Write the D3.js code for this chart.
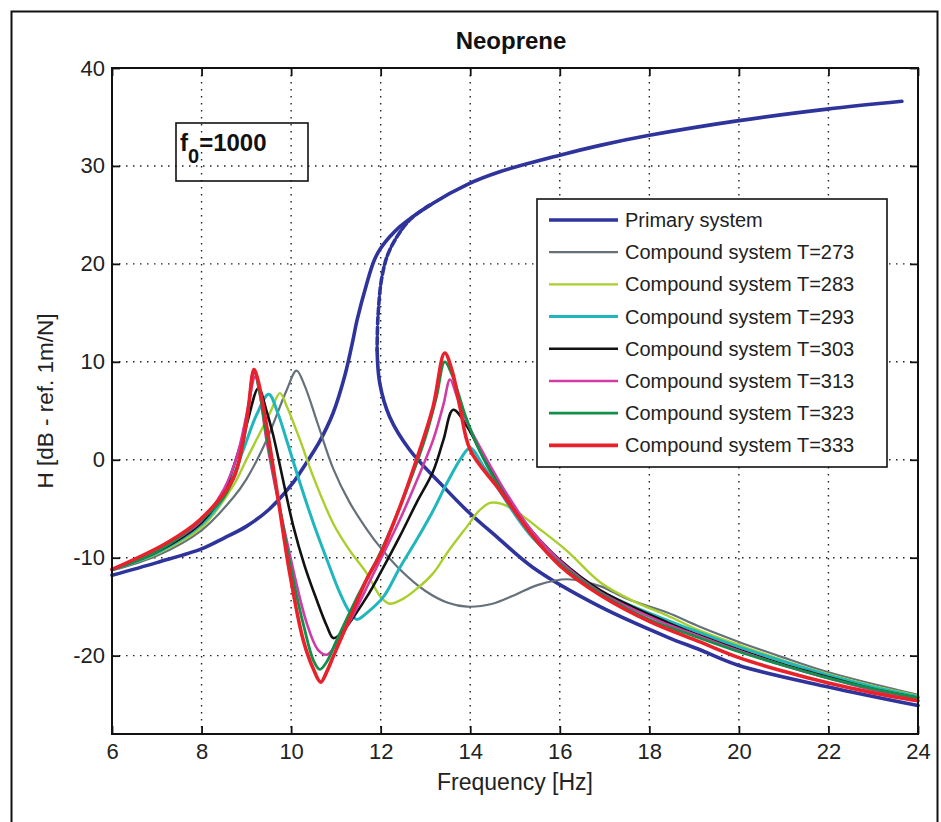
<!DOCTYPE html>
<html>
<head>
<meta charset="utf-8">
<script src="https://cdn.jsdelivr.net/npm/d3@7"></script>
<style>
  body { margin: 0; background: #fff; }
  svg { font-family: "Liberation Sans", Arial, sans-serif; }
</style>
</head>
<body>
<svg id="chart" width="941" height="822"></svg>
<script>
// axis ticks
const freqTicks = [6, 8, 10, 12, 14, 16, 18, 20, 22, 24];
const levelTicks = [-20, -10, 0, 10, 20, 30, 40];

// Primary system, rising branch and falling branch  [frequency Hz, H dB]
const primaryRise = [[6,-11.8],[7,-10.5],[8,-9.1],[8.5,-8.0],[9,-6.8],[9.5,-5.1],[10,-2.6],[10.3,-0.6],[10.64,1.9],
  [10.94,4.8],[11.2,8.6],[11.38,12.2],[11.47,14.2],[11.69,18.0],[11.85,20.3],[12.0,21.6],[12.43,23.8],[13.17,26.2],
  [13.93,28.1],[14.66,29.4],[16,31.1],[16.9,32.1],[17.97,33.1],[19.96,34.6],[21.97,35.8],[23.64,36.6]];
const primaryFallTop = [[13.1,26.0],[12.65,24.5],[12.2,21.4],[12.03,18.7],[11.94,14.6],[11.92,11.2]];
const primaryFall = [[11.92,11.2],[11.98,7.8],[12.2,4.4],[12.65,1.0],[13.33,-2.4],[13.93,-5.2],[14.6,-7.9],
  [15.4,-11.0],[16.9,-15.0],[18.4,-18.1],[19.13,-19.4],[20,-21.0],[22,-23.2],[24,-25.1]];

// Compound system, one array per temperature
const t273 = [[6,-11.3],[7,-9.8],[8,-7.2],[8.7,-3.9],[9,-2.0],[9.45,2.0],[9.9,7.1],[10.12,9.1],[10.3,7.6],[10.6,3.6],
  [10.94,-0.9],[11.3,-4.3],[11.69,-7.1],[12,-9.0],[12.43,-11.2],[13,-13.4],[13.5,-14.6],[13.93,-15.0],[14.5,-14.7],
  [15,-13.8],[15.5,-12.8],[16.16,-12.2],[16.9,-12.9],[17.5,-14.2],[18.4,-15.6],[19.1,-17.0],[20,-18.6],[21,-20.2],
  [22,-21.7],[23,-22.9],[24,-24.0]];
const t283 = [[6,-11.2],[7,-9.6],[8,-6.9],[8.7,-2.7],[9,0.0],[9.3,2.7],[9.55,5.0],[9.75,6.8],[9.9,5.5],[10.2,2.0],
  [10.5,-1.8],[10.94,-6.5],[11.3,-9.2],[11.69,-11.6],[12,-14.0],[12.2,-14.7],[12.5,-14.2],[12.8,-13.2],[13.17,-11.6],
  [13.5,-9.4],[13.93,-6.8],[14.2,-5.2],[14.44,-4.4],[14.7,-4.5],[15.04,-5.3],[15.5,-6.9],[16.16,-9.3],[16.9,-12.5],
  [17.63,-14.4],[18.4,-15.9],[19.1,-17.4],[20,-18.9],[21,-20.5],[22,-21.9],[23,-23.1],[24,-24.1]];
const t293 = [[6,-11.2],[7,-9.5],[8,-6.6],[8.5,-3.8],[8.93,1.0],[9.23,4.6],[9.5,6.7],[9.7,4.8],[9.9,2.0],[10.2,-2.4],
  [10.5,-6.5],[10.8,-10.2],[11.09,-13.6],[11.3,-15.5],[11.47,-16.3],[11.7,-15.6],[12.06,-14.0],[12.43,-11.0],
  [12.8,-8.2],[13.17,-5.2],[13.5,-2.2],[13.8,0.2],[14.0,1.2],[14.3,-0.7],[14.66,-3.2],[15,-5.6],[15.4,-8.0],[16,-10.6],
  [16.9,-13.4],[18.4,-16.4],[19.1,-17.6],[20,-19.1],[21,-20.6],[22,-22.0],[23,-23.2],[24,-24.2]];
const t303 = [[6,-11.2],[7,-9.4],[8,-6.4],[8.5,-3.3],[8.7,-0.9],[9,3.5],[9.27,7.3],[9.45,5.0],[9.6,2.5],[10.05,-6.8],
  [10.3,-10.8],[10.57,-14.3],[10.8,-17.0],[10.94,-18.2],[11.1,-17.8],[11.69,-14.0],[12,-11.5],[12.43,-7.8],[12.8,-4.4],
  [13.17,-1.2],[13.4,2.0],[13.62,5.1],[13.93,3.4],[14.3,0.2],[14.66,-2.7],[15,-5.0],[15.4,-7.4],[16,-10.2],[16.9,-13.3],
  [18.4,-16.6],[19.1,-17.9],[20,-19.4],[21,-20.9],[22,-22.2],[23,-23.4],[24,-24.3]];
const t313 = [[6,-11.2],[7,-9.3],[8,-6.2],[8.5,-3.0],[8.8,0.5],[9,4.5],[9.2,8.5],[9.3,6.8],[9.45,2.0],[9.9,-8.2],
  [10.35,-16.7],[10.6,-19.4],[10.8,-19.9],[11,-18.9],[11.31,-16.5],[11.8,-12.0],[12.43,-6.1],[12.8,-2.2],[13.17,2.0],
  [13.4,5.6],[13.55,8.2],[13.7,6.5],[13.93,3.8],[14.3,0.6],[14.66,-2.3],[15,-4.8],[15.4,-7.4],[16,-10.3],[16.9,-13.5],
  [18.4,-16.8],[19.1,-18.0],[20,-19.5],[21,-21.0],[22,-22.3],[23,-23.5],[24,-24.3]];
const t323 = [[6,-11.2],[7,-9.4],[8,-6.1],[8.5,-3.8],[8.8,-0.8],[9,3.5],[9.17,9.1],[9.3,6.8],[9.45,2.5],[9.8,-6.2],
  [10,-11.2],[10.3,-17.3],[10.5,-20.5],[10.64,-21.4],[10.8,-20.6],[11,-18.6],[11.5,-13.8],[12,-9.4],[12.5,-4.0],
  [13,2.3],[13.25,6.5],[13.43,10.0],[13.6,8.6],[13.9,4.4],[14.2,1.0],[14.6,-2.4],[15,-5.3],[15.5,-8.4],[16,-10.6],
  [17,-13.9],[18,-16.3],[19,-18.0],[20,-19.6],[21,-21.0],[22,-22.3],[23,-23.4],[24,-24.3]];
const t333 = [[6,-11.2],[7.22,-8.5],[7.97,-6.1],[8.7,-2.0],[8.93,2.0],[9.05,5.5],[9.17,9.2],[9.25,8.3],[9.38,5.4],
  [9.68,-3.1],[9.97,-11.6],[10.27,-18.4],[10.5,-21.4],[10.66,-22.7],[10.8,-21.6],[10.94,-20.1],[11.3,-16.3],
  [11.69,-12.2],[12,-9.6],[12.43,-4.8],[12.8,0.0],[13.17,5.4],[13.43,10.9],[13.6,9.0],[13.77,5.4],[14,1.0],
  [14.66,-3.1],[15.4,-7.8],[16,-10.8],[16.9,-13.8],[18,-16.5],[19.13,-18.6],[20,-20.2],[21,-21.6],[22,-22.8],
  [23,-23.8],[24,-24.6]];

const compoundData = [t273, t283, t293, t303, t313, t323, t333];
const compoundLabels = ["Compound system T=273", "Compound system T=283", "Compound system T=293",
  "Compound system T=303", "Compound system T=313", "Compound system T=323", "Compound system T=333"];
const compoundColors = ["#65707a", "#a9cf2c", "#1fb6bd", "#111111", "#d13ba6", "#12904a", "#e8212b"];
const compoundWidths = [2.2, 2.4, 3, 2.6, 2.6, 2.8, 3.6];
const primaryColor = "#2e349c";

const svg = d3.select("#chart");

// outer frame
svg.append("rect")
  .attr("x", 11.5).attr("y", 11.5)
  .attr("width", 926).attr("height", 840)
  .attr("fill", "none").attr("stroke", "#111").attr("stroke-width", 2);

const x = d3.scaleLinear().domain([6, 24]).range([112, 918]);
const y = d3.scaleLinear().domain([-28, 40]).range([734, 68]);

// grid
const grid = svg.append("g").attr("stroke", "#222").attr("stroke-width", 1.4).attr("stroke-dasharray", "1.5,5.5");
grid.selectAll(".gx").data(freqTicks.slice(1, -1)).join("line")
  .attr("x1", d => x(d)).attr("x2", d => x(d)).attr("y1", y(40)).attr("y2", y(-28));
grid.selectAll(".gy").data(levelTicks.slice(0, -1)).join("line")
  .attr("y1", d => y(d)).attr("y2", d => y(d)).attr("x1", x(6)).attr("x2", x(24));

// inner ticks on all four sides
const tickLen = 8;
function innerTicks(axis, transform) {
  const g = svg.append("g").attr("transform", transform).call(axis.tickSize(-tickLen).tickFormat(""));
  g.select(".domain").remove();
  g.selectAll(".tick line").attr("stroke", "#111").attr("stroke-width", 1.8);
}
innerTicks(d3.axisBottom(x).tickValues(freqTicks), `translate(0,${y(-28)})`);
innerTicks(d3.axisTop(x).tickValues(freqTicks), `translate(0,${y(40)})`);
innerTicks(d3.axisLeft(y).tickValues(levelTicks), `translate(${x(6)},0)`);
innerTicks(d3.axisRight(y).tickValues(levelTicks), `translate(${x(24)},0)`);

// tick labels (plain hyphen minus like the original)
const xLab = svg.append("g").attr("transform", `translate(0,${y(-28)})`)
  .call(d3.axisBottom(x).tickValues(freqTicks).tickSize(0).tickPadding(9).tickFormat(d => String(d)));
xLab.select(".domain").remove();
xLab.selectAll("text").attr("font-size", 22).attr("fill", "#222").style("font-family", "Liberation Sans, Arial, sans-serif");

const yLab = svg.append("g").attr("transform", `translate(${x(6)},0)`)
  .call(d3.axisLeft(y).tickValues(levelTicks).tickSize(0).tickPadding(7).tickFormat(d => String(d)));
yLab.select(".domain").remove();
yLab.selectAll("text").attr("font-size", 22).attr("fill", "#222").style("font-family", "Liberation Sans, Arial, sans-serif");

// curves
const line = d3.line().x(d => x(d[0])).y(d => y(d[1])).curve(d3.curveCatmullRom.alpha(0.5));
const curves = svg.append("g").attr("fill", "none").attr("stroke-linejoin", "round").attr("stroke-linecap", "round");

curves.append("path").datum(primaryRise).attr("d", line)
  .attr("stroke", primaryColor).attr("stroke-width", 3.6);
curves.append("path").datum(primaryFallTop).attr("d", line)
  .attr("stroke", primaryColor).attr("stroke-width", 3.6).attr("stroke-dasharray", "7,3");
curves.append("path").datum(primaryFall).attr("d", line)
  .attr("stroke", primaryColor).attr("stroke-width", 3.6);

compoundData.forEach((data, i) => {
  curves.append("path").datum(data).attr("d", line)
    .attr("stroke", compoundColors[i]).attr("stroke-width", compoundWidths[i]);
});

// plot box
svg.append("rect")
  .attr("x", x(6)).attr("y", y(40))
  .attr("width", x(24) - x(6)).attr("height", y(-28) - y(40))
  .attr("fill", "none").attr("stroke", "#111").attr("stroke-width", 2);

// title and axis labels
svg.append("text").attr("x", 511).attr("y", 49)
  .attr("text-anchor", "middle").attr("font-size", 24).attr("font-weight", "bold").attr("fill", "#111")
  .text("Neoprene");
svg.append("text").attr("x", (x(6) + x(24)) / 2).attr("y", 790)
  .attr("text-anchor", "middle").attr("font-size", 23).attr("fill", "#222")
  .text("Frequency [Hz]");
svg.append("text").attr("transform", `translate(53,${(y(40) + y(-28)) / 2}) rotate(-90)`)
  .attr("text-anchor", "middle").attr("font-size", 22.5).attr("fill", "#222")
  .text("H [dB - ref. 1m/N]");

// f0 annotation box
svg.append("rect").attr("x", 176).attr("y", 123).attr("width", 132).attr("height", 58)
  .attr("fill", "none").attr("stroke", "#111").attr("stroke-width", 1.6);
const f0 = svg.append("text").attr("x", 180).attr("y", 151)
  .attr("font-size", 24).attr("font-weight", "bold").attr("fill", "#111");
f0.append("tspan").text("f");
f0.append("tspan").attr("font-size", 20).attr("dy", 12).text("0");
f0.append("tspan").attr("dy", -12).text("=1000");

// legend
const legend = svg.append("g");
legend.append("rect").attr("x", 537).attr("y", 199).attr("width", 350).attr("height", 268)
  .attr("fill", "#fff").attr("stroke", "#111").attr("stroke-width", 1.6);
const legendLabels = ["Primary system"].concat(compoundLabels);
const legendColors = [primaryColor].concat(compoundColors);
const legendWidths = [3.6].concat(compoundWidths);
const rows = legend.selectAll(".row").data(legendLabels).join("g")
  .attr("transform", (d, i) => `translate(0,${220 + i * 32.2})`);
rows.append("line").attr("x1", 549).attr("x2", 618)
  .attr("stroke", (d, i) => legendColors[i]).attr("stroke-width", (d, i) => legendWidths[i]);
rows.append("text").attr("x", 625).attr("dy", "0.35em")
  .attr("font-size", 20).attr("fill", "#222").text(d => d);
</script>
</body>
</html>
